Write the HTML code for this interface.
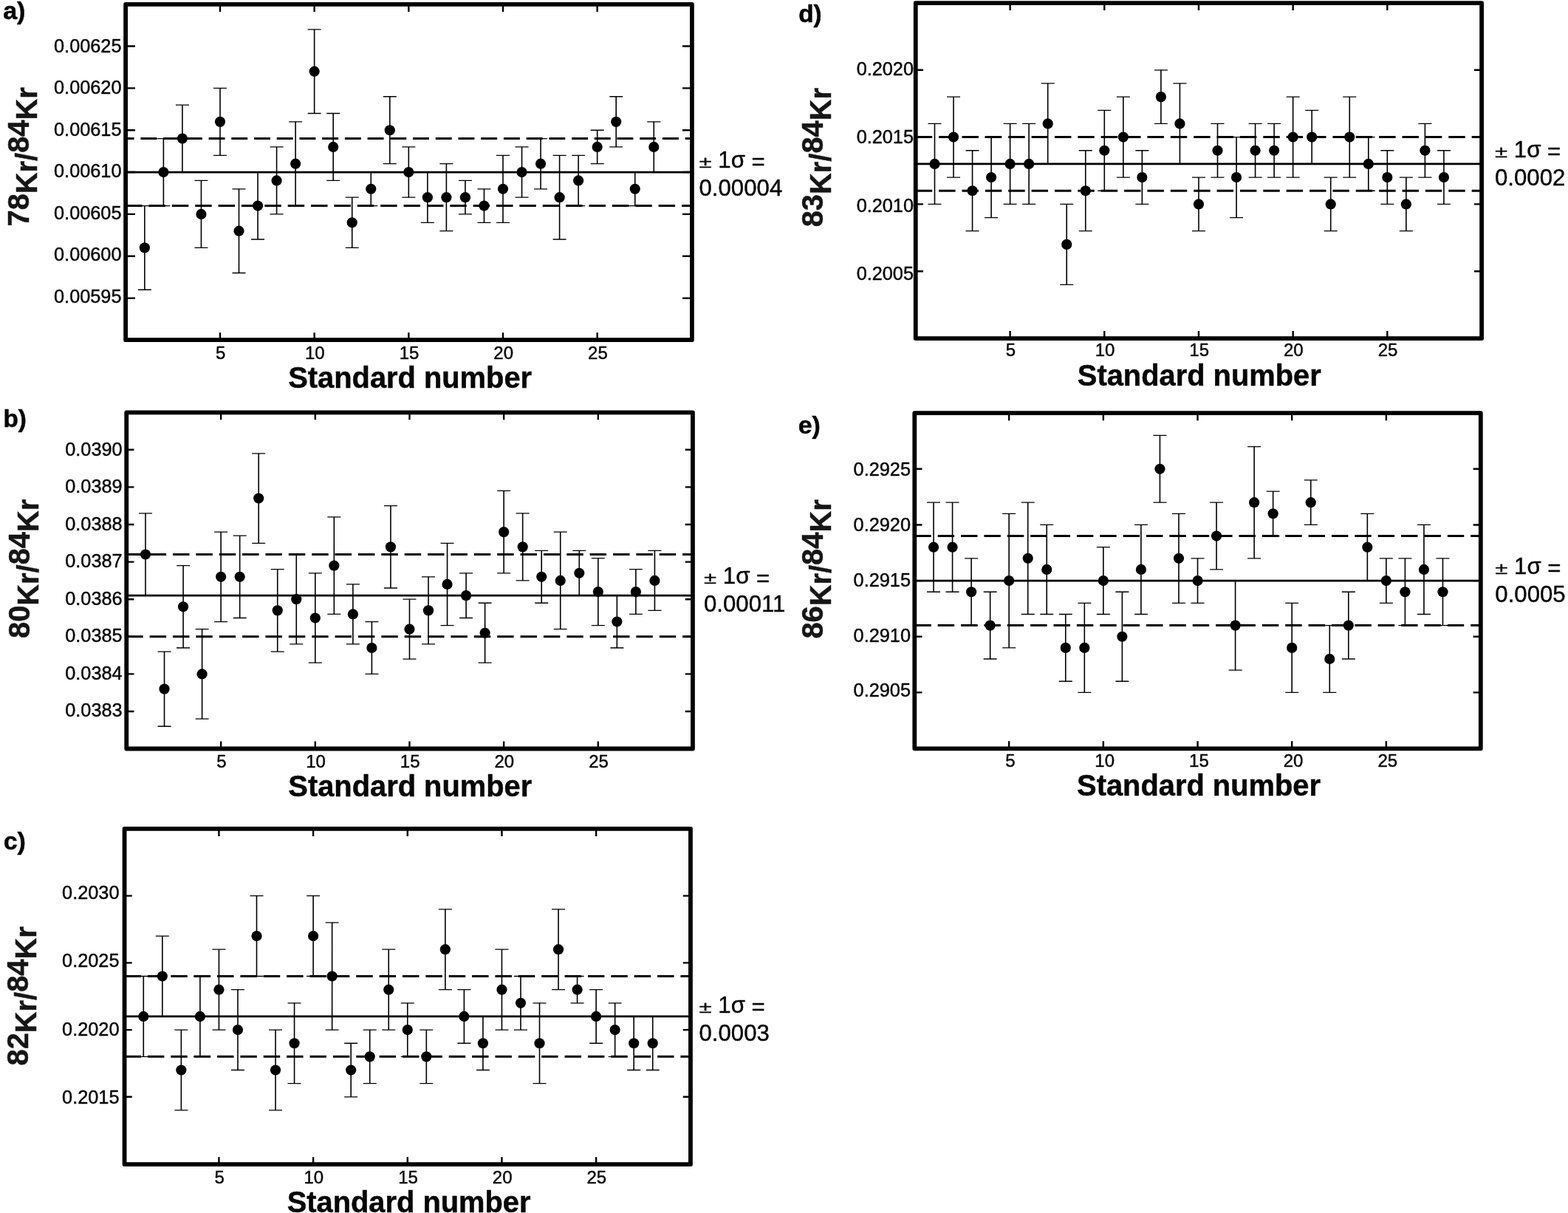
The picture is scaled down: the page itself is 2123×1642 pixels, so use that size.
<!DOCTYPE html>
<html lang="en">
<head>
<meta charset="utf-8">
<title>Kr isotope ratios of standards</title>
<style>
html,body{margin:0;padding:0;background:#fff;}
body{width:2123px;height:1642px;overflow:hidden;}
svg{display:block;}
text{font-family:"Liberation Sans",Arial,Helvetica,sans-serif;fill:#060606;stroke:#060606;stroke-width:0.45px;stroke-linejoin:round;}
text.b{font-weight:700;stroke-width:0.5px;}
.frame{fill:none;stroke:#000;stroke-width:5.8;stroke-linejoin:round;}
.tick{fill:none;stroke:#000;stroke-width:2.4;}
.err{fill:none;stroke:#000;stroke-width:1.6;}
.cap{fill:none;stroke:#000;stroke-width:1.3;}
.mean{stroke:#000;stroke-width:2.8;}
.dash{stroke:#000;stroke-width:3.0;stroke-dasharray:22.45 8.92;}
circle{fill:#000;}
</style>
</head>
<body>
<svg xmlns="http://www.w3.org/2000/svg" width="2123" height="1642" viewBox="0 0 2123 1642">
<rect x="0" y="0" width="2123" height="1642" fill="#fff"/>
<g id="panel-a">
<line class="dash" x1="170.1" y1="187.6" x2="936.9" y2="187.6" style="stroke-dasharray:21.9 8.82;stroke-dashoffset:10.4"/>
<line class="dash" x1="170.1" y1="278.55" x2="936.9" y2="278.55"/>
<line class="mean" x1="170.1" y1="233.07" x2="936.9" y2="233.07"/>
<path class="err" d="M195.84 278.55V392.23M221.37 187.6V278.55M246.91 142.13V233.07M272.44 244.44V335.39M297.98 119.39V210.34M323.51 255.81V369.5M349.05 233.07V324.02M374.58 198.97V289.92M400.12 164.87V278.55M425.65 39.81V153.5M451.19 153.5V244.44M476.72 267.18V335.39M502.25 233.07V278.55M527.79 130.76V221.71M553.33 198.97V267.18M578.86 233.07V301.29M604.39 221.71V312.65M629.93 244.44V289.92M655.47 255.81V301.29M681 210.34V301.29M706.54 198.97V267.18M732.07 187.6V255.81M757.61 210.34V324.02M783.14 210.34V278.55M808.67 176.23V221.71M834.21 130.76V198.97M859.75 233.07V278.55M885.28 164.87V233.07"/>
<path class="cap" d="M186.84 278.55H204.84M186.84 392.23H204.84M212.37 187.6H230.37M212.37 278.55H230.37M237.91 142.13H255.91M237.91 233.07H255.91M263.44 244.44H281.44M263.44 335.39H281.44M288.98 119.39H306.98M288.98 210.34H306.98M314.51 255.81H332.51M314.51 369.5H332.51M340.05 233.07H358.05M340.05 324.02H358.05M365.58 198.97H383.58M365.58 289.92H383.58M391.12 164.87H409.12M391.12 278.55H409.12M416.65 39.81H434.65M416.65 153.5H434.65M442.19 153.5H460.19M442.19 244.44H460.19M467.72 267.18H485.72M467.72 335.39H485.72M493.25 233.07H511.25M493.25 278.55H511.25M518.79 130.76H536.79M518.79 221.71H536.79M544.33 198.97H562.33M544.33 267.18H562.33M569.86 233.07H587.86M569.86 301.29H587.86M595.39 221.71H613.39M595.39 312.65H613.39M620.93 244.44H638.93M620.93 289.92H638.93M646.47 255.81H664.47M646.47 301.29H664.47M672 210.34H690M672 301.29H690M697.54 198.97H715.54M697.54 267.18H715.54M723.07 187.6H741.07M723.07 255.81H741.07M748.61 210.34H766.61M748.61 324.02H766.61M774.14 210.34H792.14M774.14 278.55H792.14M799.67 176.23H817.67M799.67 221.71H817.67M825.21 130.76H843.21M825.21 198.97H843.21M850.75 233.07H868.75M850.75 278.55H868.75M876.28 164.87H894.28M876.28 233.07H894.28"/>
<circle cx="195.84" cy="335.39" r="7.1"/>
<circle cx="221.37" cy="233.07" r="7.1"/>
<circle cx="246.91" cy="187.6" r="7.1"/>
<circle cx="272.44" cy="289.92" r="7.1"/>
<circle cx="297.98" cy="164.87" r="7.1"/>
<circle cx="323.51" cy="312.65" r="7.1"/>
<circle cx="349.05" cy="278.55" r="7.1"/>
<circle cx="374.58" cy="244.44" r="7.1"/>
<circle cx="400.12" cy="221.71" r="7.1"/>
<circle cx="425.65" cy="96.66" r="7.1"/>
<circle cx="451.19" cy="198.97" r="7.1"/>
<circle cx="476.72" cy="301.29" r="7.1"/>
<circle cx="502.25" cy="255.81" r="7.1"/>
<circle cx="527.79" cy="176.23" r="7.1"/>
<circle cx="553.33" cy="233.07" r="7.1"/>
<circle cx="578.86" cy="267.18" r="7.1"/>
<circle cx="604.39" cy="267.18" r="7.1"/>
<circle cx="629.93" cy="267.18" r="7.1"/>
<circle cx="655.47" cy="278.55" r="7.1"/>
<circle cx="681" cy="255.81" r="7.1"/>
<circle cx="706.54" cy="233.07" r="7.1"/>
<circle cx="732.07" cy="221.71" r="7.1"/>
<circle cx="757.61" cy="267.18" r="7.1"/>
<circle cx="783.14" cy="244.44" r="7.1"/>
<circle cx="808.67" cy="198.97" r="7.1"/>
<circle cx="834.21" cy="164.87" r="7.1"/>
<circle cx="859.75" cy="255.81" r="7.1"/>
<circle cx="885.28" cy="198.97" r="7.1"/>
<path class="tick" d="M170.1 62.55H183M936.9 62.55H924M170.1 119.39H183M936.9 119.39H924M170.1 176.23H183M936.9 176.23H924M170.1 233.07H183M936.9 233.07H924M170.1 289.92H183M936.9 289.92H924M170.1 346.76H183M936.9 346.76H924M170.1 403.6H183M936.9 403.6H924M297.98 5.9V15.9M297.98 460.2V450.2M425.65 5.9V15.9M425.65 460.2V450.2M553.33 5.9V15.9M553.33 460.2V450.2M681 5.9V15.9M681 460.2V450.2M808.67 5.9V15.9M808.67 460.2V450.2"/>
<rect class="frame" x="170.1" y="5.9" width="766.8" height="454.3"/>
<text class="r" transform="translate(164.5 70.55)" font-size="25.3" text-anchor="end">0.00625</text>
<text class="r" transform="translate(164.5 127.06)" font-size="25.3" text-anchor="end">0.00620</text>
<text class="r" transform="translate(164.5 183.57)" font-size="25.3" text-anchor="end">0.00615</text>
<text class="r" transform="translate(164.5 240.07)" font-size="25.3" text-anchor="end">0.00610</text>
<text class="r" transform="translate(164.5 296.58)" font-size="25.3" text-anchor="end">0.00605</text>
<text class="r" transform="translate(164.5 353.09)" font-size="25.3" text-anchor="end">0.00600</text>
<text class="r" transform="translate(164.5 409.6)" font-size="25.3" text-anchor="end">0.00595</text>
<text class="r" transform="translate(298.68 485.9)" font-size="24" text-anchor="middle">5</text>
<text class="r" transform="translate(426.35 485.9)" font-size="24" text-anchor="middle">10</text>
<text class="r" transform="translate(554.03 485.9)" font-size="24" text-anchor="middle">15</text>
<text class="r" transform="translate(681.7 485.9)" font-size="24" text-anchor="middle">20</text>
<text class="r" transform="translate(809.38 485.9)" font-size="24" text-anchor="middle">25</text>
<text class="b" transform="translate(555.12 524.5) scale(0.9675 1)" font-size="41.2" text-anchor="middle">Standard number</text>
<text class="b" transform="translate(50 306.5) rotate(-90) scale(0.9675 1)" font-size="41.2" text-anchor="start" style="fill:#161616;stroke:#161616"><tspan dy="-11.3">78</tspan><tspan dy="11.3">Kr/</tspan><tspan dy="-11.3">84</tspan><tspan dy="11.3">Kr</tspan></text>
<text class="b" transform="translate(4.2 25.8)" font-size="34" text-anchor="start">a)</text>
<text class="r" transform="translate(946.5 227.1) scale(1 0.72)" font-size="31.2" text-anchor="start">±</text>
<text class="r" transform="translate(972.29 227.1)" font-size="31.2" text-anchor="start">1σ</text>
<text class="r" transform="translate(1017.57 229.4) scale(1 0.96)" font-size="31.2" text-anchor="start">=</text>
<text class="r" transform="translate(946.5 265.2)" font-size="31.2" text-anchor="start">0.00004</text>
</g>
<g id="panel-b">
<line class="dash" x1="171.25" y1="750.48" x2="937.95" y2="750.48"/>
<line class="dash" x1="171.25" y1="861.8" x2="937.95" y2="861.8"/>
<line class="mean" x1="171.25" y1="806.14" x2="937.95" y2="806.14"/>
<path class="err" d="M196.98 694.82V806.14M222.52 882.04V983.24M248.06 765.66V876.98M273.59 851.68V973.12M299.12 720.12V841.56M324.66 725.18V836.5M350.19 613.86V735.3M375.73 770.72V882.04M401.26 750.48V871.92M426.8 775.78V897.22M452.33 699.88V831.44M477.87 790.96V871.92M503.4 841.56V912.4M528.94 684.7V796.02M554.47 811.2V892.16M580.01 780.84V871.92M605.55 735.3V846.62M631.08 775.78V836.5M656.62 816.26V897.22M682.15 664.46V775.78M707.68 694.82V785.9M733.22 745.42V816.26M758.75 720.12V851.68M784.29 745.42V806.14M809.83 755.54V846.62M835.36 806.14V876.98M860.89 770.72V831.44M886.43 745.42V826.38"/>
<path class="cap" d="M187.98 694.82H205.98M187.98 806.14H205.98M213.52 882.04H231.52M213.52 983.24H231.52M239.06 765.66H257.06M239.06 876.98H257.06M264.59 851.68H282.59M264.59 973.12H282.59M290.12 720.12H308.12M290.12 841.56H308.12M315.66 725.18H333.66M315.66 836.5H333.66M341.19 613.86H359.19M341.19 735.3H359.19M366.73 770.72H384.73M366.73 882.04H384.73M392.26 750.48H410.26M392.26 871.92H410.26M417.8 775.78H435.8M417.8 897.22H435.8M443.33 699.88H461.33M443.33 831.44H461.33M468.87 790.96H486.87M468.87 871.92H486.87M494.4 841.56H512.4M494.4 912.4H512.4M519.94 684.7H537.94M519.94 796.02H537.94M545.47 811.2H563.47M545.47 892.16H563.47M571.01 780.84H589.01M571.01 871.92H589.01M596.55 735.3H614.55M596.55 846.62H614.55M622.08 775.78H640.08M622.08 836.5H640.08M647.62 816.26H665.62M647.62 897.22H665.62M673.15 664.46H691.15M673.15 775.78H691.15M698.68 694.82H716.68M698.68 785.9H716.68M724.22 745.42H742.22M724.22 816.26H742.22M749.75 720.12H767.75M749.75 851.68H767.75M775.29 745.42H793.29M775.29 806.14H793.29M800.83 755.54H818.83M800.83 846.62H818.83M826.36 806.14H844.36M826.36 876.98H844.36M851.89 770.72H869.89M851.89 831.44H869.89M877.43 745.42H895.43M877.43 826.38H895.43"/>
<circle cx="196.98" cy="750.48" r="7.1"/>
<circle cx="222.52" cy="932.64" r="7.1"/>
<circle cx="248.06" cy="821.32" r="7.1"/>
<circle cx="273.59" cy="912.4" r="7.1"/>
<circle cx="299.12" cy="780.84" r="7.1"/>
<circle cx="324.66" cy="780.84" r="7.1"/>
<circle cx="350.19" cy="674.58" r="7.1"/>
<circle cx="375.73" cy="826.38" r="7.1"/>
<circle cx="401.26" cy="811.2" r="7.1"/>
<circle cx="426.8" cy="836.5" r="7.1"/>
<circle cx="452.33" cy="765.66" r="7.1"/>
<circle cx="477.87" cy="831.44" r="7.1"/>
<circle cx="503.4" cy="876.98" r="7.1"/>
<circle cx="528.94" cy="740.36" r="7.1"/>
<circle cx="554.47" cy="851.68" r="7.1"/>
<circle cx="580.01" cy="826.38" r="7.1"/>
<circle cx="605.55" cy="790.96" r="7.1"/>
<circle cx="631.08" cy="806.14" r="7.1"/>
<circle cx="656.62" cy="856.74" r="7.1"/>
<circle cx="682.15" cy="720.12" r="7.1"/>
<circle cx="707.68" cy="740.36" r="7.1"/>
<circle cx="733.22" cy="780.84" r="7.1"/>
<circle cx="758.75" cy="785.9" r="7.1"/>
<circle cx="784.29" cy="775.78" r="7.1"/>
<circle cx="809.83" cy="801.08" r="7.1"/>
<circle cx="835.36" cy="841.56" r="7.1"/>
<circle cx="860.89" cy="801.08" r="7.1"/>
<circle cx="886.43" cy="785.9" r="7.1"/>
<path class="tick" d="M171.25 608.8H181.45M937.95 608.8H927.75M171.25 659.4H181.45M937.95 659.4H927.75M171.25 710H181.45M937.95 710H927.75M171.25 760.6H181.45M937.95 760.6H927.75M171.25 811.2H181.45M937.95 811.2H927.75M171.25 861.8H181.45M937.95 861.8H927.75M171.25 912.4H181.45M937.95 912.4H927.75M171.25 963H181.45M937.95 963H927.75M299.12 558.3V568.3M299.12 1013.5V1003.5M426.8 558.3V568.3M426.8 1013.5V1003.5M554.47 558.3V568.3M554.47 1013.5V1003.5M682.15 558.3V568.3M682.15 1013.5V1003.5M809.83 558.3V568.3M809.83 1013.5V1003.5"/>
<rect class="frame" x="171.25" y="558.3" width="766.7" height="455.2"/>
<text class="r" transform="translate(165.65 616.8)" font-size="25.3" text-anchor="end">0.0390</text>
<text class="r" transform="translate(165.65 667.27)" font-size="25.3" text-anchor="end">0.0389</text>
<text class="r" transform="translate(165.65 717.74)" font-size="25.3" text-anchor="end">0.0388</text>
<text class="r" transform="translate(165.65 768.21)" font-size="25.3" text-anchor="end">0.0387</text>
<text class="r" transform="translate(165.65 818.69)" font-size="25.3" text-anchor="end">0.0386</text>
<text class="r" transform="translate(165.65 869.16)" font-size="25.3" text-anchor="end">0.0385</text>
<text class="r" transform="translate(165.65 919.63)" font-size="25.3" text-anchor="end">0.0384</text>
<text class="r" transform="translate(165.65 970.1)" font-size="25.3" text-anchor="end">0.0383</text>
<text class="r" transform="translate(299.82 1039.2)" font-size="24" text-anchor="middle">5</text>
<text class="r" transform="translate(427.5 1039.2)" font-size="24" text-anchor="middle">10</text>
<text class="r" transform="translate(555.17 1039.2)" font-size="24" text-anchor="middle">15</text>
<text class="r" transform="translate(682.85 1039.2)" font-size="24" text-anchor="middle">20</text>
<text class="r" transform="translate(810.53 1039.2)" font-size="24" text-anchor="middle">25</text>
<text class="b" transform="translate(555.27 1077.8) scale(0.9675 1)" font-size="41.2" text-anchor="middle">Standard number</text>
<text class="b" transform="translate(51.7 864) rotate(-90) scale(0.9675 1)" font-size="41.2" text-anchor="start" style="fill:#161616;stroke:#161616"><tspan dy="-11.3">80</tspan><tspan dy="11.3">Kr/</tspan><tspan dy="-11.3">84</tspan><tspan dy="11.3">Kr</tspan></text>
<text class="b" transform="translate(4.4 578.2)" font-size="33.3" text-anchor="start">b)</text>
<text class="r" transform="translate(953 790.3) scale(1 0.72)" font-size="31.2" text-anchor="start">±</text>
<text class="r" transform="translate(978.79 790.3)" font-size="31.2" text-anchor="start">1σ</text>
<text class="r" transform="translate(1024.07 792.6) scale(1 0.96)" font-size="31.2" text-anchor="start">=</text>
<text class="r" transform="translate(953 828.4)" font-size="31.2" text-anchor="start">0.00011</text>
</g>
<g id="panel-c">
<line class="dash" x1="168.55" y1="1321.51" x2="934.95" y2="1321.51"/>
<line class="dash" x1="168.55" y1="1430.37" x2="934.95" y2="1430.37"/>
<line class="mean" x1="168.55" y1="1375.94" x2="934.95" y2="1375.94"/>
<path class="err" d="M194.28 1321.51V1430.37M219.82 1267.08V1375.94M245.36 1394.08V1502.94M270.89 1321.51V1430.37M296.43 1285.22V1394.08M321.96 1339.65V1448.51M347.5 1212.65V1321.51M373.03 1394.08V1502.94M398.56 1357.8V1466.66M424.1 1212.65V1321.51M449.63 1248.94V1394.08M475.17 1412.23V1484.8M500.7 1394.08V1466.66M526.24 1285.22V1394.08M551.77 1357.8V1430.37M577.31 1394.08V1466.66M602.85 1230.79V1339.65M628.38 1339.65V1412.23M653.91 1375.94V1448.51M679.45 1285.22V1394.08M704.99 1321.51V1394.08M730.52 1357.8V1466.66M756.05 1230.79V1339.65M781.59 1321.51V1357.8M807.12 1339.65V1412.23M832.66 1357.8V1430.37M858.2 1375.94V1448.51M883.73 1375.94V1448.51"/>
<path class="cap" d="M185.28 1321.51H203.28M185.28 1430.37H203.28M210.82 1267.08H228.82M210.82 1375.94H228.82M236.36 1394.08H254.36M236.36 1502.94H254.36M261.89 1321.51H279.89M261.89 1430.37H279.89M287.43 1285.22H305.43M287.43 1394.08H305.43M312.96 1339.65H330.96M312.96 1448.51H330.96M338.5 1212.65H356.5M338.5 1321.51H356.5M364.03 1394.08H382.03M364.03 1502.94H382.03M389.56 1357.8H407.56M389.56 1466.66H407.56M415.1 1212.65H433.1M415.1 1321.51H433.1M440.63 1248.94H458.63M440.63 1394.08H458.63M466.17 1412.23H484.17M466.17 1484.8H484.17M491.7 1394.08H509.7M491.7 1466.66H509.7M517.24 1285.22H535.24M517.24 1394.08H535.24M542.77 1357.8H560.77M542.77 1430.37H560.77M568.31 1394.08H586.31M568.31 1466.66H586.31M593.85 1230.79H611.85M593.85 1339.65H611.85M619.38 1339.65H637.38M619.38 1412.23H637.38M644.91 1375.94H662.91M644.91 1448.51H662.91M670.45 1285.22H688.45M670.45 1394.08H688.45M695.99 1321.51H713.99M695.99 1394.08H713.99M721.52 1357.8H739.52M721.52 1466.66H739.52M747.05 1230.79H765.05M747.05 1339.65H765.05M772.59 1321.51H790.59M772.59 1357.8H790.59M798.12 1339.65H816.12M798.12 1412.23H816.12M823.66 1357.8H841.66M823.66 1430.37H841.66M849.2 1375.94H867.2M849.2 1448.51H867.2M874.73 1375.94H892.73M874.73 1448.51H892.73"/>
<circle cx="194.28" cy="1375.94" r="7.1"/>
<circle cx="219.82" cy="1321.51" r="7.1"/>
<circle cx="245.36" cy="1448.51" r="7.1"/>
<circle cx="270.89" cy="1375.94" r="7.1"/>
<circle cx="296.43" cy="1339.65" r="7.1"/>
<circle cx="321.96" cy="1394.08" r="7.1"/>
<circle cx="347.5" cy="1267.08" r="7.1"/>
<circle cx="373.03" cy="1448.51" r="7.1"/>
<circle cx="398.56" cy="1412.23" r="7.1"/>
<circle cx="424.1" cy="1267.08" r="7.1"/>
<circle cx="449.63" cy="1321.51" r="7.1"/>
<circle cx="475.17" cy="1448.51" r="7.1"/>
<circle cx="500.7" cy="1430.37" r="7.1"/>
<circle cx="526.24" cy="1339.65" r="7.1"/>
<circle cx="551.77" cy="1394.08" r="7.1"/>
<circle cx="577.31" cy="1430.37" r="7.1"/>
<circle cx="602.85" cy="1285.22" r="7.1"/>
<circle cx="628.38" cy="1375.94" r="7.1"/>
<circle cx="653.91" cy="1412.23" r="7.1"/>
<circle cx="679.45" cy="1339.65" r="7.1"/>
<circle cx="704.99" cy="1357.8" r="7.1"/>
<circle cx="730.52" cy="1412.23" r="7.1"/>
<circle cx="756.05" cy="1285.22" r="7.1"/>
<circle cx="781.59" cy="1339.65" r="7.1"/>
<circle cx="807.12" cy="1375.94" r="7.1"/>
<circle cx="832.66" cy="1394.08" r="7.1"/>
<circle cx="858.2" cy="1412.23" r="7.1"/>
<circle cx="883.73" cy="1412.23" r="7.1"/>
<path class="tick" d="M168.55 1212.65H178.75M934.95 1212.65H924.75M168.55 1303.37H178.75M934.95 1303.37H924.75M168.55 1394.08H178.75M934.95 1394.08H924.75M168.55 1484.8H178.75M934.95 1484.8H924.75M296.43 1121.9V1131.9M296.43 1576.2V1566.2M424.1 1121.9V1131.9M424.1 1576.2V1566.2M551.77 1121.9V1131.9M551.77 1576.2V1566.2M679.45 1121.9V1131.9M679.45 1576.2V1566.2M807.12 1121.9V1131.9M807.12 1576.2V1566.2"/>
<rect class="frame" x="168.55" y="1121.9" width="766.4" height="454.3"/>
<text class="r" transform="translate(161.45 1216.85)" font-size="25.3" text-anchor="end">0.2030</text>
<text class="r" transform="translate(161.45 1309.22)" font-size="25.3" text-anchor="end">0.2025</text>
<text class="r" transform="translate(161.45 1401.58)" font-size="25.3" text-anchor="end">0.2020</text>
<text class="r" transform="translate(161.45 1493.95)" font-size="25.3" text-anchor="end">0.2015</text>
<text class="r" transform="translate(297.12 1601.7)" font-size="24" text-anchor="middle">5</text>
<text class="r" transform="translate(424.8 1601.7)" font-size="24" text-anchor="middle">10</text>
<text class="r" transform="translate(552.48 1601.7)" font-size="24" text-anchor="middle">15</text>
<text class="r" transform="translate(680.15 1601.7)" font-size="24" text-anchor="middle">20</text>
<text class="r" transform="translate(807.83 1601.7)" font-size="24" text-anchor="middle">25</text>
<text class="b" transform="translate(553.57 1640.7) scale(0.9675 1)" font-size="41.2" text-anchor="middle">Standard number</text>
<text class="b" transform="translate(49.2 1442.5) rotate(-90) scale(0.9675 1)" font-size="41.2" text-anchor="start" style="fill:#161616;stroke:#161616"><tspan dy="-11.3">82</tspan><tspan dy="11.3">Kr/</tspan><tspan dy="-11.3">84</tspan><tspan dy="11.3">Kr</tspan></text>
<text class="b" transform="translate(4.7 1150.3)" font-size="34" text-anchor="start">c)</text>
<text class="r" transform="translate(946.5 1371.1) scale(1 0.72)" font-size="31.2" text-anchor="start">±</text>
<text class="r" transform="translate(972.29 1371.1)" font-size="31.2" text-anchor="start">1σ</text>
<text class="r" transform="translate(1017.57 1373.4) scale(1 0.96)" font-size="31.2" text-anchor="start">=</text>
<text class="r" transform="translate(946.5 1409.2)" font-size="31.2" text-anchor="start">0.0003</text>
</g>
<g id="panel-d">
<line class="dash" x1="1239.75" y1="185.6" x2="2006.1" y2="185.6"/>
<line class="dash" x1="1239.75" y1="258.24" x2="2006.1" y2="258.24"/>
<line class="mean" x1="1239.75" y1="221.92" x2="2006.1" y2="221.92"/>
<path class="err" d="M1265.49 167.44V276.4M1291.02 131.12V240.08M1316.56 203.76V312.72M1342.09 185.6V294.56M1367.62 167.44V276.4M1393.16 167.44V276.4M1418.7 112.96V221.92M1444.23 276.4V385.36M1469.77 203.76V312.72M1495.3 149.28V258.24M1520.84 131.12V240.08M1546.37 203.76V276.4M1571.9 94.8V167.44M1597.44 112.96V221.92M1622.97 240.08V312.72M1648.51 167.44V240.08M1674.05 185.6V294.56M1699.58 167.44V240.08M1725.12 167.44V240.08M1750.65 131.12V240.08M1776.18 149.28V221.92M1801.72 240.08V312.72M1827.26 131.12V240.08M1852.79 185.6V258.24M1878.33 203.76V276.4M1903.86 240.08V312.72M1929.39 167.44V240.08M1954.93 203.76V276.4"/>
<path class="cap" d="M1256.49 167.44H1274.49M1256.49 276.4H1274.49M1282.02 131.12H1300.02M1282.02 240.08H1300.02M1307.56 203.76H1325.56M1307.56 312.72H1325.56M1333.09 185.6H1351.09M1333.09 294.56H1351.09M1358.62 167.44H1376.62M1358.62 276.4H1376.62M1384.16 167.44H1402.16M1384.16 276.4H1402.16M1409.7 112.96H1427.7M1409.7 221.92H1427.7M1435.23 276.4H1453.23M1435.23 385.36H1453.23M1460.77 203.76H1478.77M1460.77 312.72H1478.77M1486.3 149.28H1504.3M1486.3 258.24H1504.3M1511.84 131.12H1529.84M1511.84 240.08H1529.84M1537.37 203.76H1555.37M1537.37 276.4H1555.37M1562.9 94.8H1580.9M1562.9 167.44H1580.9M1588.44 112.96H1606.44M1588.44 221.92H1606.44M1613.97 240.08H1631.97M1613.97 312.72H1631.97M1639.51 167.44H1657.51M1639.51 240.08H1657.51M1665.05 185.6H1683.05M1665.05 294.56H1683.05M1690.58 167.44H1708.58M1690.58 240.08H1708.58M1716.12 167.44H1734.12M1716.12 240.08H1734.12M1741.65 131.12H1759.65M1741.65 240.08H1759.65M1767.18 149.28H1785.18M1767.18 221.92H1785.18M1792.72 240.08H1810.72M1792.72 312.72H1810.72M1818.26 131.12H1836.26M1818.26 240.08H1836.26M1843.79 185.6H1861.79M1843.79 258.24H1861.79M1869.33 203.76H1887.33M1869.33 276.4H1887.33M1894.86 240.08H1912.86M1894.86 312.72H1912.86M1920.39 167.44H1938.39M1920.39 240.08H1938.39M1945.93 203.76H1963.93M1945.93 276.4H1963.93"/>
<circle cx="1265.49" cy="221.92" r="7.1"/>
<circle cx="1291.02" cy="185.6" r="7.1"/>
<circle cx="1316.56" cy="258.24" r="7.1"/>
<circle cx="1342.09" cy="240.08" r="7.1"/>
<circle cx="1367.62" cy="221.92" r="7.1"/>
<circle cx="1393.16" cy="221.92" r="7.1"/>
<circle cx="1418.7" cy="167.44" r="7.1"/>
<circle cx="1444.23" cy="330.88" r="7.1"/>
<circle cx="1469.77" cy="258.24" r="7.1"/>
<circle cx="1495.3" cy="203.76" r="7.1"/>
<circle cx="1520.84" cy="185.6" r="7.1"/>
<circle cx="1546.37" cy="240.08" r="7.1"/>
<circle cx="1571.9" cy="131.12" r="7.1"/>
<circle cx="1597.44" cy="167.44" r="7.1"/>
<circle cx="1622.97" cy="276.4" r="7.1"/>
<circle cx="1648.51" cy="203.76" r="7.1"/>
<circle cx="1674.05" cy="240.08" r="7.1"/>
<circle cx="1699.58" cy="203.76" r="7.1"/>
<circle cx="1725.12" cy="203.76" r="7.1"/>
<circle cx="1750.65" cy="185.6" r="7.1"/>
<circle cx="1776.18" cy="185.6" r="7.1"/>
<circle cx="1801.72" cy="276.4" r="7.1"/>
<circle cx="1827.26" cy="185.6" r="7.1"/>
<circle cx="1852.79" cy="221.92" r="7.1"/>
<circle cx="1878.33" cy="240.08" r="7.1"/>
<circle cx="1903.86" cy="276.4" r="7.1"/>
<circle cx="1929.39" cy="203.76" r="7.1"/>
<circle cx="1954.93" cy="240.08" r="7.1"/>
<path class="tick" d="M1239.75 94.8H1249.95M2006.1 94.8H1995.9M1239.75 185.6H1249.95M2006.1 185.6H1995.9M1239.75 276.4H1249.95M2006.1 276.4H1995.9M1239.75 367.2H1249.95M2006.1 367.2H1995.9M1367.62 4.1V14.1M1367.62 458.1V448.1M1495.3 4.1V14.1M1495.3 458.1V448.1M1622.97 4.1V14.1M1622.97 458.1V448.1M1750.65 4.1V14.1M1750.65 458.1V448.1M1878.33 4.1V14.1M1878.33 458.1V448.1"/>
<rect class="frame" x="1239.75" y="4.1" width="766.35" height="454"/>
<text class="r" transform="translate(1237 101.6)" font-size="25.3" text-anchor="end">0.2020</text>
<text class="r" transform="translate(1237 194.05)" font-size="25.3" text-anchor="end">0.2015</text>
<text class="r" transform="translate(1237 286.5)" font-size="25.3" text-anchor="end">0.2010</text>
<text class="r" transform="translate(1237 378.95)" font-size="25.3" text-anchor="end">0.2005</text>
<text class="r" transform="translate(1368.33 482.2)" font-size="24" text-anchor="middle">5</text>
<text class="r" transform="translate(1496 482.2)" font-size="24" text-anchor="middle">10</text>
<text class="r" transform="translate(1623.67 482.2)" font-size="24" text-anchor="middle">15</text>
<text class="r" transform="translate(1751.35 482.2)" font-size="24" text-anchor="middle">20</text>
<text class="r" transform="translate(1879.03 482.2)" font-size="24" text-anchor="middle">25</text>
<text class="b" transform="translate(1623.77 521.7) scale(0.9675 1)" font-size="41.2" text-anchor="middle">Standard number</text>
<text class="b" transform="translate(1125.3 307.3) rotate(-90) scale(0.9675 1)" font-size="41.2" text-anchor="start" style="fill:#161616;stroke:#161616"><tspan dy="-11.3">83</tspan><tspan dy="11.3">Kr/</tspan><tspan dy="-11.3">84</tspan><tspan dy="11.3">Kr</tspan></text>
<text class="b" transform="translate(1081.2 30.1)" font-size="33.3" text-anchor="start">d)</text>
<text class="r" transform="translate(2024 212.5) scale(1 0.72)" font-size="31.2" text-anchor="start">±</text>
<text class="r" transform="translate(2049.79 212.5)" font-size="31.2" text-anchor="start">1σ</text>
<text class="r" transform="translate(2095.07 214.8) scale(1 0.96)" font-size="31.2" text-anchor="start">=</text>
<text class="r" transform="translate(2024 250.6)" font-size="31.2" text-anchor="start">0.0002</text>
</g>
<g id="panel-e">
<line class="dash" x1="1238.3" y1="725.58" x2="2004.8" y2="725.58"/>
<line class="dash" x1="1238.3" y1="846.62" x2="2004.8" y2="846.62"/>
<line class="mean" x1="1238.3" y1="786.1" x2="2004.8" y2="786.1"/>
<path class="err" d="M1264.04 680.19V801.23M1289.57 680.19V801.23M1315.11 755.84V846.62M1340.64 801.23V892.01M1366.17 695.32V876.88M1391.71 680.19V831.49M1417.24 710.45V831.49M1442.78 831.49V922.27M1468.32 816.36V937.4M1493.85 740.71V831.49M1519.38 801.23V922.27M1544.92 710.45V831.49M1570.45 589.41V680.19M1595.99 695.32V816.36M1621.53 755.84V816.36M1647.06 680.19V770.97M1672.6 786.1V907.14M1698.13 604.54V755.84M1723.66 665.06V725.58M1749.2 816.36V937.4M1774.74 649.93V710.45M1800.27 846.62V937.4M1825.8 801.23V892.01M1851.34 695.32V786.1M1876.88 755.84V816.36M1902.41 755.84V846.62M1927.95 710.45V831.49M1953.48 755.84V846.62"/>
<path class="cap" d="M1255.04 680.19H1273.04M1255.04 801.23H1273.04M1280.57 680.19H1298.57M1280.57 801.23H1298.57M1306.11 755.84H1324.11M1306.11 846.62H1324.11M1331.64 801.23H1349.64M1331.64 892.01H1349.64M1357.17 695.32H1375.17M1357.17 876.88H1375.17M1382.71 680.19H1400.71M1382.71 831.49H1400.71M1408.24 710.45H1426.24M1408.24 831.49H1426.24M1433.78 831.49H1451.78M1433.78 922.27H1451.78M1459.32 816.36H1477.32M1459.32 937.4H1477.32M1484.85 740.71H1502.85M1484.85 831.49H1502.85M1510.38 801.23H1528.38M1510.38 922.27H1528.38M1535.92 710.45H1553.92M1535.92 831.49H1553.92M1561.45 589.41H1579.45M1561.45 680.19H1579.45M1586.99 695.32H1604.99M1586.99 816.36H1604.99M1612.53 755.84H1630.53M1612.53 816.36H1630.53M1638.06 680.19H1656.06M1638.06 770.97H1656.06M1663.6 786.1H1681.6M1663.6 907.14H1681.6M1689.13 604.54H1707.13M1689.13 755.84H1707.13M1714.66 665.06H1732.66M1714.66 725.58H1732.66M1740.2 816.36H1758.2M1740.2 937.4H1758.2M1765.74 649.93H1783.74M1765.74 710.45H1783.74M1791.27 846.62H1809.27M1791.27 937.4H1809.27M1816.8 801.23H1834.8M1816.8 892.01H1834.8M1842.34 695.32H1860.34M1842.34 786.1H1860.34M1867.88 755.84H1885.88M1867.88 816.36H1885.88M1893.41 755.84H1911.41M1893.41 846.62H1911.41M1918.95 710.45H1936.95M1918.95 831.49H1936.95M1944.48 755.84H1962.48M1944.48 846.62H1962.48"/>
<circle cx="1264.04" cy="740.71" r="7.1"/>
<circle cx="1289.57" cy="740.71" r="7.1"/>
<circle cx="1315.11" cy="801.23" r="7.1"/>
<circle cx="1340.64" cy="846.62" r="7.1"/>
<circle cx="1366.17" cy="786.1" r="7.1"/>
<circle cx="1391.71" cy="755.84" r="7.1"/>
<circle cx="1417.24" cy="770.97" r="7.1"/>
<circle cx="1442.78" cy="876.88" r="7.1"/>
<circle cx="1468.32" cy="876.88" r="7.1"/>
<circle cx="1493.85" cy="786.1" r="7.1"/>
<circle cx="1519.38" cy="861.75" r="7.1"/>
<circle cx="1544.92" cy="770.97" r="7.1"/>
<circle cx="1570.45" cy="634.8" r="7.1"/>
<circle cx="1595.99" cy="755.84" r="7.1"/>
<circle cx="1621.53" cy="786.1" r="7.1"/>
<circle cx="1647.06" cy="725.58" r="7.1"/>
<circle cx="1672.6" cy="846.62" r="7.1"/>
<circle cx="1698.13" cy="680.19" r="7.1"/>
<circle cx="1723.66" cy="695.32" r="7.1"/>
<circle cx="1749.2" cy="876.88" r="7.1"/>
<circle cx="1774.74" cy="680.19" r="7.1"/>
<circle cx="1800.27" cy="892.01" r="7.1"/>
<circle cx="1825.8" cy="846.62" r="7.1"/>
<circle cx="1851.34" cy="740.71" r="7.1"/>
<circle cx="1876.88" cy="786.1" r="7.1"/>
<circle cx="1902.41" cy="801.23" r="7.1"/>
<circle cx="1927.95" cy="770.97" r="7.1"/>
<circle cx="1953.48" cy="801.23" r="7.1"/>
<path class="tick" d="M1238.3 634.8H1248.5M2004.8 634.8H1994.6M1238.3 710.45H1248.5M2004.8 710.45H1994.6M1238.3 786.1H1248.5M2004.8 786.1H1994.6M1238.3 861.75H1248.5M2004.8 861.75H1994.6M1238.3 937.4H1248.5M2004.8 937.4H1994.6M1366.17 559.2V569.2M1366.17 1013.3V1003.3M1493.85 559.2V569.2M1493.85 1013.3V1003.3M1621.53 559.2V569.2M1621.53 1013.3V1003.3M1749.2 559.2V569.2M1749.2 1013.3V1003.3M1876.88 559.2V569.2M1876.88 1013.3V1003.3"/>
<rect class="frame" x="1238.3" y="559.2" width="766.5" height="454.1"/>
<text class="r" transform="translate(1232.95 644.45)" font-size="25.3" text-anchor="end">0.2925</text>
<text class="r" transform="translate(1232.95 719.17)" font-size="25.3" text-anchor="end">0.2920</text>
<text class="r" transform="translate(1232.95 793.9)" font-size="25.3" text-anchor="end">0.2915</text>
<text class="r" transform="translate(1232.95 868.62)" font-size="25.3" text-anchor="end">0.2910</text>
<text class="r" transform="translate(1232.95 943.35)" font-size="25.3" text-anchor="end">0.2905</text>
<text class="r" transform="translate(1368.02 1037.5)" font-size="24" text-anchor="middle">5</text>
<text class="r" transform="translate(1495.7 1037.5)" font-size="24" text-anchor="middle">10</text>
<text class="r" transform="translate(1623.38 1037.5)" font-size="24" text-anchor="middle">15</text>
<text class="r" transform="translate(1751.05 1037.5)" font-size="24" text-anchor="middle">20</text>
<text class="r" transform="translate(1878.72 1037.5)" font-size="24" text-anchor="middle">25</text>
<text class="b" transform="translate(1622.98 1076.6) scale(0.9675 1)" font-size="41.2" text-anchor="middle">Standard number</text>
<text class="b" transform="translate(1125.1 864.6) rotate(-90) scale(0.9675 1)" font-size="41.2" text-anchor="start" style="fill:#161616;stroke:#161616"><tspan dy="-11.3">86</tspan><tspan dy="11.3">Kr/</tspan><tspan dy="-11.3">84</tspan><tspan dy="11.3">Kr</tspan></text>
<text class="b" transform="translate(1080.7 586.7)" font-size="34" text-anchor="start">e)</text>
<text class="r" transform="translate(2024.3 777.1) scale(1 0.72)" font-size="31.2" text-anchor="start">±</text>
<text class="r" transform="translate(2050.09 777.1)" font-size="31.2" text-anchor="start">1σ</text>
<text class="r" transform="translate(2095.37 779.4) scale(1 0.96)" font-size="31.2" text-anchor="start">=</text>
<text class="r" transform="translate(2024.3 815.2)" font-size="31.2" text-anchor="start">0.0005</text>
</g>
</svg>
</body>
</html>
